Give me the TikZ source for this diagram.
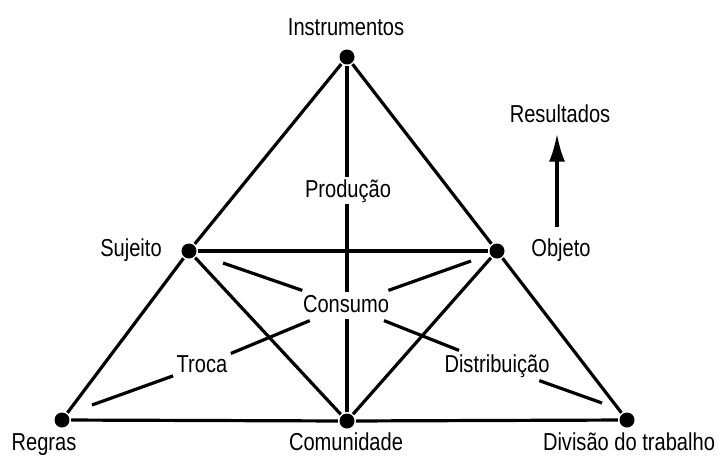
\documentclass[tikz,border=0pt]{standalone}
\usepackage{fontspec}
\setmainfont[FakeStretch=0.82]{Liberation Sans}
\usetikzlibrary{arrows.meta}

\begin{document}
\begin{tikzpicture}[x=1pt,y=-1pt,line width=3.2pt]
  \tikzset{dot/.style={circle,fill=black,inner sep=0pt,minimum size=15pt},
           lbl/.style={anchor=base,fill=white,inner sep=2pt,text height=18pt,text depth=5pt,
                       font=\fontsize{24.5}{28}\selectfont}}
  \useasboundingbox (0,0) rectangle (718,456);

  \node[dot] (instr) at (347,57) {};
  \node[dot] (suj) at (189,251) {};
  \node[dot] (obj) at (497,251) {};
  \node[dot] (regras) at (62,420) {};
  \node[dot] (comun) at (347,421) {};
  \node[dot] (divis) at (627,420) {};

  \draw (instr) -- (suj) -- (regras) -- (comun) -- (divis) -- (obj) -- (instr);
  \draw (suj) -- (obj);
  \draw (suj) -- (comun) -- (obj);
  \draw (instr) -- (comun);

  % labels at the corners
  \node[lbl] (linstr) at (346,35) {Instrumentos};
  \node[lbl] (lsuj) at (131,256) {Sujeito};
  \node[lbl] (lobj) at (561,256) {Objeto};
  \node[lbl,inner sep=0pt] (lregras) at (44,450) {Regras};
  \node[lbl,inner sep=0pt] (lcomun) at (346,450) {Comunidade};
  \node[lbl,inner sep=0pt] (ldivis) at (629,450) {Divisão do trabalho};
  \node[lbl] (res) at (560,122) {Resultados};

  % labels inside
  \node[lbl] (prod) at (348,197) {Produção};
  \node[lbl] (cons) at (346,312) {Consumo};
  \node[lbl] (troca) at (202,372) {Troca};
  \node[lbl] (distr) at (497,372) {Distribuição};

  \coordinate (c1) at (223,263);
  \coordinate (c2) at (471,261);
  \coordinate (c3) at (92,405);
  \coordinate (c4) at (602,403);
  \coordinate (r0) at (557,227);

  \draw (cons) -- (c1);
  \draw (cons) -- (c2);
  \draw (cons) -- (troca);
  \draw (cons) -- (distr);
  \draw (troca) -- (c3);
  \draw (distr) -- (c4);

  \draw[-{Latex[length=28pt,width=16pt]},shorten >=3pt] (r0) -- (r0 |- res.south);
\end{tikzpicture}
\end{document}
